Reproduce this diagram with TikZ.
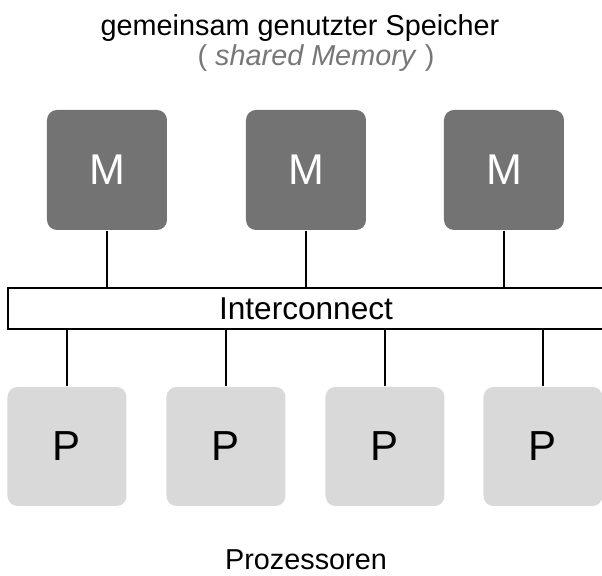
\documentclass[tikz,border=0pt]{standalone}
\usepackage{fontspec}
\setmainfont{Liberation Sans}
\usetikzlibrary{positioning}

\definecolor{memgray}{HTML}{737373}
\definecolor{procgray}{HTML}{D9D9D9}
\definecolor{notegray}{HTML}{777777}

\begin{document}
\begin{tikzpicture}[x=0.5pt, y=-0.5pt, line width=0.6pt,
    mem/.style={fill=memgray, text=white, rounded corners=5pt, minimum size=60pt, inner sep=0pt, font=\fontsize{21.5}{24}\selectfont},
    proc/.style={fill=procgray, rounded corners=5pt, minimum size=59.5pt, inner sep=0pt, font=\fontsize{21}{24}\selectfont},
    heading/.style={anchor=base, inner sep=0pt, font=\fontsize{14.4}{17}\selectfont}]
   \useasboundingbox (0,0) rectangle (602,576);

   \node[heading] (T1) at (300,36) {gemeinsam genutzter Speicher};
   \node[heading, text=notegray] (T2) at (316,66) {( \textit{shared Memory} )};

   \node[mem] (M1) at (107,170) {M};
   \node[mem] (M2) at (306,170) {M};
   \node[mem] (M3) at (504,170) {M};

   \node[draw, minimum width=298pt, minimum height=20.5pt, inner sep=0pt, font=\fontsize{15.8}{18}\selectfont] (IC) at (306,308.5) {Interconnect};

   \node[proc] (P1) at (67,446.5) {P};
   \node[proc] (P2) at (226,446.5) {P};
   \node[proc] (P3) at (385,446.5) {P};
   \node[proc] (P4) at (543,446.5) {P};

   \node[heading] (T3) at (306,570) {Prozessoren};

  \path[draw]
    (M1) edge (M1 |- IC.north)
    (M2) edge (M2 |- IC.north)
    (M3) edge (M3 |- IC.north)
    (P1) edge (P1 |- IC.south)
    (P2) edge (P2 |- IC.south)
    (P3) edge (P3 |- IC.south)
    (P4) edge (P4 |- IC.south);
\end{tikzpicture}
\end{document}
